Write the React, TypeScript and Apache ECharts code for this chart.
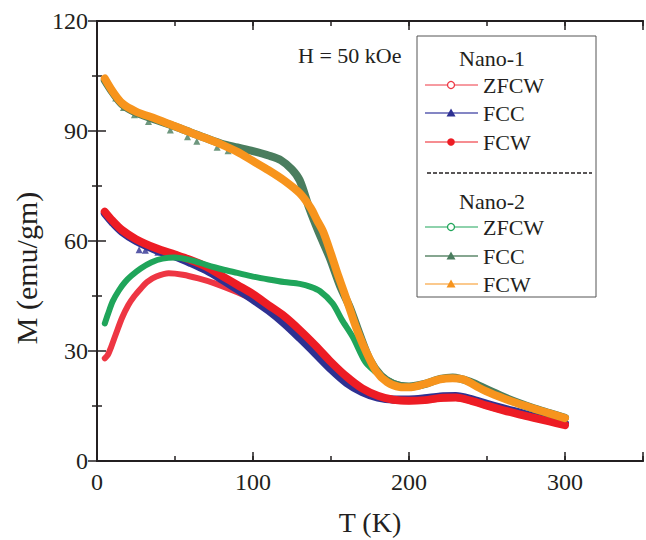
import React, { useEffect, useRef } from 'react';
import * as echarts from 'echarts';

// ---- Data (T in K, M in emu/gm) ----
const n1ZfcwT = [5, 7, 9, 12, 16, 20, 24, 28, 32, 38, 46, 55, 65, 75, 90, 100, 110, 120, 130, 140, 150, 160, 170, 180, 190, 200, 210, 220, 230, 240, 250, 260, 270, 280, 290, 300];
const n1ZfcwM = [28, 29, 31, 34.5, 39, 42.5, 45, 47, 48.8, 50.3, 51.2, 50.8, 49.8, 48.5, 46, 44, 41.5, 38.5, 35.5, 31, 26.5, 22.5, 19.5, 17.5, 16.5, 16.3, 16.5, 17, 17.2, 16.3, 15, 13.8, 12.8, 11.8, 10.8, 9.8];

const n1FccT = [5, 10, 16, 25, 38, 50, 60, 70, 80, 90, 100, 110, 120, 130, 140, 150, 160, 170, 180, 190, 200, 210, 220, 230, 240, 250, 260, 270, 280, 290, 300];
const n1FccM = [67.5, 65, 62.5, 60, 57.5, 55.8, 54, 52, 49.5, 46.8, 44, 41, 37.5, 33.5, 29.3, 25, 21.3, 18.8, 17.3, 16.8, 16.8, 17.1, 17.6, 17.7, 16.9, 15.6, 14.4, 13.3, 12.2, 11.2, 10.2];
const n1FccOutT = [27, 31, 39];
const n1FccOutM = [57.6, 57.5, 56.9];

const n1FcwT = [5, 10, 16, 25, 38, 50, 60, 70, 80, 90, 100, 110, 120, 130, 140, 150, 160, 170, 180, 190, 200, 210, 220, 230, 240, 250, 260, 270, 280, 290, 300];
const n1FcwM = [68, 65.5, 63, 60.5, 58, 56.3, 54.8, 53, 50.5, 48, 45.5, 42.5, 39.5, 35.7, 31.5, 27, 23, 19.8, 17.8, 16.7, 16.4, 16.6, 17.2, 17.3, 16.4, 15.1, 13.9, 12.8, 11.8, 10.8, 9.8];

const n2ZfcwT = [5, 7, 10, 14, 18, 22, 28, 35, 42, 50, 60, 70, 80, 90, 100, 110, 120, 130, 137, 143, 151, 157, 164, 172, 178, 183, 190, 200, 210, 220, 228, 240, 250, 260, 270, 280, 290, 300];
const n2ZfcwM = [37.5, 40, 43.5, 46.5, 48.8, 50.5, 52.5, 54.2, 55.2, 55.5, 54.8, 53.5, 52.3, 51.3, 50.3, 49.5, 48.8, 48.3, 47.5, 46.3, 43, 38.5, 33.8, 27, 24.5, 23, 21.3, 20.3, 20.8, 22.3, 22.7, 21.5, 19.3, 17.3, 15.5, 14, 12.7, 11.5];

const n2FccT = [5, 10, 16, 25, 38, 50, 60, 70, 80, 90, 100, 110, 118, 125, 130, 136, 142, 149, 156, 162, 168, 175, 182, 190, 200, 210, 220, 228, 240, 250, 260, 270, 280, 290, 300];
const n2FccM = [103.8, 100.5, 97.3, 95, 93, 91.2, 89.6, 88, 86.5, 85.5, 84.5, 83.3, 82, 79.5, 76.5, 69, 62.5, 55.6, 47.5, 42, 35, 27.5, 23.3, 21, 20.3, 21, 22.4, 22.8, 21.5, 19.5, 17.6, 15.9, 14.4, 13.1, 11.8];
const n2FccOutT = [12, 17, 24, 33, 47, 58, 64, 77, 84];
const n2FccOutM = [99.0, 96.4, 94.4, 92.6, 90.3, 88.4, 87.2, 85.6, 84.6];

const n2FcwT = [5, 10, 16, 25, 38, 50, 60, 70, 80, 90, 100, 110, 120, 130, 137, 141, 145, 150, 154, 158, 162, 166, 172, 179, 186, 194, 200, 210, 220, 228, 235, 247, 258, 269, 280, 290, 300];
const n2FcwM = [104.3, 100.8, 97.6, 95.3, 93.3, 91.3, 89.6, 88, 86.3, 84.3, 81.8, 79.3, 76.5, 73, 69, 65.7, 62.5, 56.5, 51.3, 46.5, 41.5, 36.5, 30.3, 24.5, 21.5, 20.2, 20.1, 21, 22.3, 22.6, 22.2, 19.5, 17.5, 15.8, 14.3, 13, 11.7];

const xTickLabels = ['0', '100', '200', '300'];
const yTickLabels = ['0', '30', '60', '90', '120'];

const zip = (a: number[], b: number[]) => a.map((v, i) => [v, b[i]]);

const FONT = "'Liberation Serif', 'Times New Roman', serif";
const AX = '#231f20';

const C = {
  n1z: '#ee3643',
  n1fcc: '#2e3192',
  n1fcw: '#ed1c24',
  n2z: '#1fa55a',
  n2fcc: '#4a7d5e',
  n2fcw: '#f7941d',
};

function legendRow(y: number, label: string, lineColor: string, lineWidth: number, marker: any) {
  return [
    { type: 'line', shape: { x1: 425, y1: y, x2: 478, y2: y }, style: { stroke: lineColor, lineWidth } },
    marker,
    { type: 'text', x: 483, y, style: { text: label, font: `22px ${FONT}`, fill: AX, textAlign: 'left', textVerticalAlign: 'middle' } },
  ];
}
const openCircle = (y: number, color: string) => ({ type: 'circle', shape: { cx: 451, cy: y, r: 3.5 }, style: { fill: '#fff', stroke: color, lineWidth: 1.3 } });
const fillCircle = (y: number, color: string) => ({ type: 'circle', shape: { cx: 451, cy: y, r: 3.8 }, style: { fill: color } });
const tri = (y: number, color: string) => ({ type: 'polygon', shape: { points: [[451, y - 4.5], [446.5, y + 3.5], [455.5, y + 3.5]] }, style: { fill: color } });

export default function App() {
  const ref = useRef<HTMLDivElement>(null);
  useEffect(() => {
    const chart = echarts.init(ref.current!, null, { renderer: 'svg' });
    const baseX = {
      type: 'value', min: 0, max: 350, gridIndex: 0,
      axisLine: { show: true, lineStyle: { color: AX, width: 1.8 } },
      splitLine: { show: false },
    };
    const lineSeries = (name: string, t: number[], m: number[], color: string, width: number) => ({
      type: 'line', name, data: zip(t, m), xAxisIndex: 0, yAxisIndex: 0,
      showSymbol: false, symbol: 'none', smooth: 0.3,
      lineStyle: { color, width, cap: 'round', join: 'round' }, itemStyle: { color }, silent: true,
    });
    const outSeries = (name: string, t: number[], m: number[], color: string) => ({
      type: 'scatter', name, data: zip(t, m), xAxisIndex: 0, yAxisIndex: 0,
      symbol: 'triangle', symbolSize: 7, itemStyle: { color }, silent: true,
    });
    chart.setOption({
      animation: false,
      backgroundColor: '#fff',
      textStyle: { fontFamily: FONT },
      grid: { left: 97, right: 3, top: 21, bottom: 79, containLabel: false },
      xAxis: [
        {
          ...baseX, position: 'bottom', interval: 50,
          axisTick: { show: true, inside: true, length: 5, lineStyle: { color: AX, width: 1.5 } },
          axisLabel: {
            show: true, margin: 9, color: AX, fontFamily: FONT, fontSize: 24,
            formatter: (v: number) => (xTickLabels.includes(String(v)) ? String(v) : ''),
          },
        },
        {
          ...baseX, position: 'bottom', interval: 100,
          axisTick: { show: true, inside: true, length: 9, lineStyle: { color: AX, width: 1.5 } },
          axisLabel: { show: false },
        },
        {
          ...baseX, position: 'top', interval: 50,
          axisTick: { show: true, inside: true, length: 5, lineStyle: { color: AX, width: 1.5 } },
          axisLabel: { show: false },
        },
        {
          ...baseX, position: 'top', interval: 100,
          axisTick: { show: true, inside: true, length: 9, lineStyle: { color: AX, width: 1.5 } },
          axisLabel: { show: false },
        },
      ],
      yAxis: [
        {
          type: 'value', min: 0, max: 120, interval: 30, position: 'left',
          axisLine: { show: true, lineStyle: { color: AX, width: 1.8 } },
          axisTick: { show: true, inside: true, length: 9, lineStyle: { color: AX, width: 1.5 } },
          minorTick: { show: true, splitNumber: 2, length: 5, lineStyle: { color: AX, width: 1.5 } },
          splitLine: { show: false },
          axisLabel: {
            show: true, margin: 9, color: AX, fontFamily: FONT, fontSize: 24,
            formatter: (v: number) => (yTickLabels.includes(String(v)) ? String(v) : ''),
          },
        },
        {
          type: 'value', min: 0, max: 120, interval: 30, position: 'right',
          axisLine: { show: true, lineStyle: { color: AX, width: 1.8 } },
          axisTick: { show: true, inside: true, length: 9, lineStyle: { color: AX, width: 1.5 } },
          minorTick: { show: true, splitNumber: 2, length: 5, lineStyle: { color: AX, width: 1.5 } },
          splitLine: { show: false },
          axisLabel: { show: false },
        },
      ],
      series: [
        lineSeries('Nano-1 ZFCW', n1ZfcwT, n1ZfcwM, C.n1z, 6),
        lineSeries('Nano-1 FCC', n1FccT, n1FccM, C.n1fcc, 8),
        outSeries('Nano-1 FCC pts', n1FccOutT, n1FccOutM, C.n1fcc),
        lineSeries('Nano-1 FCW', n1FcwT, n1FcwM, C.n1fcw, 8),
        lineSeries('Nano-2 ZFCW', n2ZfcwT, n2ZfcwM, C.n2z, 6),
        lineSeries('Nano-2 FCC', n2FccT, n2FccM, C.n2fcc, 8),
        outSeries('Nano-2 FCC pts', n2FccOutT, n2FccOutM, C.n2fcc),
        lineSeries('Nano-2 FCW', n2FcwT, n2FcwM, C.n2fcw, 8),
      ],
      graphic: [
        { type: 'text', x: 370, y: 522, style: { text: 'T (K)', font: `28px ${FONT}`, fill: AX, textAlign: 'center', textVerticalAlign: 'middle' } },
        { type: 'text', x: 26, y: 268, rotation: Math.PI / 2, style: { text: 'M (emu/gm)', font: `30px ${FONT}`, fill: AX, textAlign: 'center', textVerticalAlign: 'middle' } },
        { type: 'text', x: 298, y: 55, style: { text: 'H = 50 kOe', font: `22px ${FONT}`, fill: AX, textAlign: 'left', textVerticalAlign: 'middle' } },
        { type: 'rect', shape: { x: 417, y: 36, width: 179, height: 261 }, style: { fill: '#fff', stroke: '#555', lineWidth: 1 } },
        { type: 'text', x: 492, y: 58, style: { text: 'Nano-1', font: `22px ${FONT}`, fill: AX, textAlign: 'center', textVerticalAlign: 'middle' } },
        ...legendRow(85, 'ZFCW', C.n1z, 1, openCircle(85, C.n1z)),
        ...legendRow(113, 'FCC', '#8486c4', 2, tri(113, C.n1fcc)),
        ...legendRow(142, 'FCW', C.n1fcw, 1.2, fillCircle(142, C.n1fcw)),
        { type: 'line', shape: { x1: 427, y1: 173, x2: 592, y2: 173 }, style: { stroke: AX, lineWidth: 1.5, lineDash: [4, 2] } },
        { type: 'text', x: 492, y: 201, style: { text: 'Nano-2', font: `22px ${FONT}`, fill: AX, textAlign: 'center', textVerticalAlign: 'middle' } },
        ...legendRow(227, 'ZFCW', C.n2z, 1.2, openCircle(227, C.n2z)),
        ...legendRow(256, 'FCC', '#86a690', 2, tri(256, C.n2fcc)),
        ...legendRow(284, 'FCW', C.n2fcw, 1.2, tri(284, C.n2fcw)),
      ],
    });
    return () => chart.dispose();
  }, []);
  return <div ref={ref} style={{ position: 'fixed', left: 0, top: 0, width: 646, height: 540 }} />;
}
